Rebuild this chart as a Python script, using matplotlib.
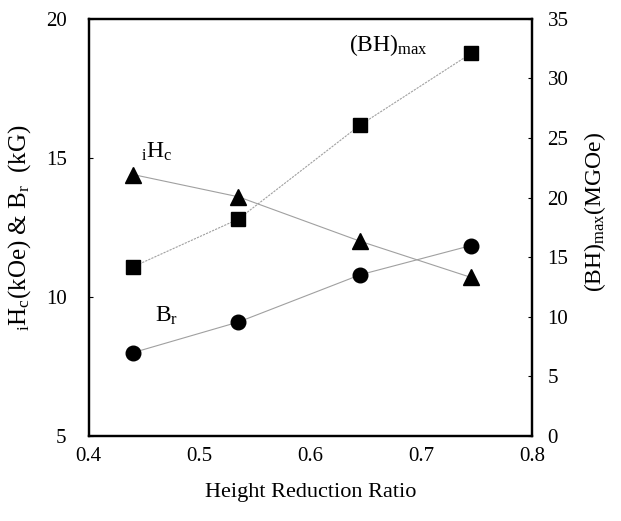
import matplotlib
matplotlib.use("Agg")
import matplotlib.pyplot as plt

plt.rcParams['font.family'] = 'Liberation Serif'
plt.rcParams['mathtext.fontset'] = 'custom'
plt.rcParams['mathtext.rm'] = 'Liberation Serif'
plt.rcParams['mathtext.it'] = 'Liberation Serif'

# data
ratio = [0.44, 0.535, 0.645, 0.745]
hc = [14.4, 13.6, 12.0, 10.7]      # iHc (kOe), left axis
br = [8.0, 9.1, 10.8, 11.85]      # Br (kG), left axis
bh = [14.2, 18.2, 26.1, 32.1]     # (BH)max (MGOe), right axis

fig = plt.figure(figsize=(6.21, 5.21), dpi=100)
ax = fig.add_axes([0.143, 0.163, 0.714, 0.801])
ax2 = ax.twinx()

line_kw = dict(color='#a0a0a0', linewidth=0.8)
ax.plot(ratio, hc, marker='^', markersize=11, markerfacecolor='black',
        markeredgecolor='black', **line_kw)
ax.plot(ratio, br, marker='o', markersize=10.5, markerfacecolor='black',
        markeredgecolor='black', **line_kw)
ax2.plot(ratio, bh, marker='s', markersize=9.5, markerfacecolor='black',
         markeredgecolor='black', linestyle=(0, (2, 1)), **line_kw)

ax.set_xlim(0.4, 0.8)
ax.set_ylim(5, 20)
ax2.set_ylim(0, 35)
ax.set_xticks([0.4, 0.5, 0.6, 0.7, 0.8])
ax.set_xticklabels(['0.4', '0.5', '0.6', '0.7', '0.8'])
ax.set_yticks([5, 10, 15, 20])
ax2.set_yticks(range(0, 36, 5))

ax.tick_params(axis='y', direction='in', length=3, labelsize=15, pad=16)
ax2.tick_params(axis='y', direction='in', length=3, labelsize=15, pad=11)
ax.tick_params(axis='x', length=0, labelsize=15, pad=8)

for a in (ax, ax2):
    for s in a.spines.values():
        s.set_linewidth(1.6)

ax.set_xlabel('Height Reduction Ratio', fontsize=16, labelpad=12)
ax.set_ylabel(r'$_{\rm i}$H$_{\rm c}$(kOe) & B$_{\rm r}$  (kG)', fontsize=18)
ax.yaxis.set_label_coords(-0.126, 0.5)
ax2.set_ylabel(r'(BH)$_{\rm max}$(MGOe)', fontsize=17)
ax2.yaxis.set_label_coords(1.113, 0.537)

ax.text(0.447, 15.0, r'$_{\rm i}$H$_{\rm c}$', fontsize=17)
ax.text(0.46, 9.1, r'B$_{\rm r}$', fontsize=17)
ax2.text(0.635, 32.3, r'(BH)$_{\rm max}$', fontsize=17)

fig.savefig('out.png', dpi=100, facecolor='white')
